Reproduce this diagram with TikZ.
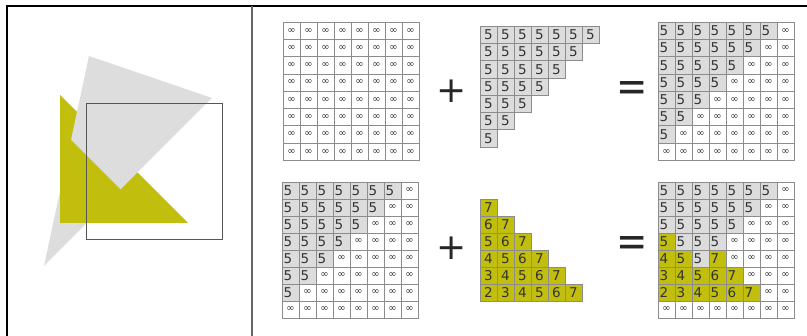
\documentclass[tikz,border=0pt]{standalone}
\usepackage{fontspec}
\usepackage{graphicx}
\newfontfamily\djv{DejaVu Sans}
\definecolor{ylw}{HTML}{C1BE0E}
\definecolor{lgray}{HTML}{DCDCDC}
\definecolor{triGray}{HTML}{DDDDDD}
\definecolor{cellline}{HTML}{8C8C8C}
\definecolor{txt}{HTML}{333333}
\definecolor{framec}{HTML}{555555}
\def\ch{17}
\tikzset{
  cellbase/.style={draw=cellline, line width=0.7pt, minimum width=17pt,
    minimum height=\ch pt, inner xsep=1.5pt, inner ysep=0pt, outer sep=0pt,
    text width=14pt, anchor=north west, text=txt},
  cellI/.style={cellbase, fill=white, align=center, font=\djv\fontsize{10}{10}\selectfont},
  cellG/.style={cellbase, fill=lgray, align=left, font=\djv\fontsize{13.5}{13.5}\selectfont},
  cellY/.style={cellbase, fill=ylw, align=left, font=\djv\fontsize{13.5}{13.5}\selectfont},
  cellGc/.style={cellbase, fill=lgray, align=center, font=\djv\fontsize{13.5}{13.5}\selectfont},
  cellYc/.style={cellbase, fill=ylw, align=center, font=\djv\fontsize{13.5}{13.5}\selectfont},
  opsign/.style={font=\djv\fontsize{36}{36}\selectfont, text=black!85, inner sep=0pt},
  eqsign/.style={font=\djv\fontsize{44}{44}\selectfont, text=black!85, inner sep=0pt},
}
\begin{document}
\begin{tikzpicture}[x=1pt,y=-1pt]
\useasboundingbox (0,0) rectangle (807,336);
% frame
\draw[line width=2pt, black] (7,337) -- (7,6) -- (808,6);
\draw[line width=1.2pt, black!60] (252,6) -- (252,337);
% left scene
\fill[ylw] (60,95) -- (60,223) -- (188,223) -- cycle;
\fill[triGray] (89,56) -- (212,98) -- (44,266) -- cycle;
\begin{scope}
  \clip (0,69) -- (300,369) -- (0,369) -- cycle;
  \fill[ylw] (60,95) -- (60,223) -- (188,223) -- cycle;
\end{scope}
\draw[framec, line width=1pt] (86,104) rectangle (222,240);
% grid 1 : all infinity
\def\ch{17.3}
\foreach \r in {0,...,7}{
  \foreach \c in {0,...,7}{
    \node[cellI] (ga-\r-\c) at (283+17*\c, 22+17.3*\r) {∞};
  }
}
% grid 2 : triangle of 5
\foreach \r in {0,...,6}{
  \pgfmathtruncatemacro\last{6-\r}
  \foreach \c in {0,...,\last}{
    \node[cellGc] (gb-\r-\c) at (480+17*\c, 26+17.3*\r) {5};
  }
}
% grid 3 : 5 above antidiagonal
\foreach \r in {0,...,7}{
  \foreach \c in {0,...,7}{
    \pgfmathtruncatemacro\s{\r+\c}
    \ifnum\s<7
      \node[cellG] (gc-\r-\c) at (658+17*\c, 22+17.3*\r) {5};
    \else
      \node[cellI] (gc-\r-\c) at (658+17*\c, 22+17.3*\r) {∞};
    \fi
  }
}
\def\ch{17}
% grid 4
\foreach \r in {0,...,7}{
  \foreach \c in {0,...,7}{
    \pgfmathtruncatemacro\s{\r+\c}
    \ifnum\s<7
      \node[cellG] (gd-\r-\c) at (282+17*\c, 182+17*\r) {5};
    \else
      \node[cellI] (gd-\r-\c) at (282+17*\c, 182+17*\r) {∞};
    \fi
  }
}
% grid 5 : yellow triangle
\foreach \r in {0,...,5}{
  \foreach \c in {0,...,\r}{
    \pgfmathtruncatemacro\v{7-\r+\c}
    \node[cellYc] (ge-\r-\c) at (480+17*\c, 199+17*\r) {\v};
  }
}
% grid 6 : result
\foreach \r/\lst in {
  0/{G/5,G/5,G/5,G/5,G/5,G/5,G/5,I/∞},
  1/{G/5,G/5,G/5,G/5,G/5,G/5,I/∞,I/∞},
  2/{G/5,G/5,G/5,G/5,G/5,I/∞,I/∞,I/∞},
  3/{Y/5,G/5,G/5,G/5,I/∞,I/∞,I/∞,I/∞},
  4/{Y/4,Y/5,G/5,Y/7,I/∞,I/∞,I/∞,I/∞},
  5/{Y/3,Y/4,Y/5,Y/6,Y/7,I/∞,I/∞,I/∞},
  6/{Y/2,Y/3,Y/4,Y/5,Y/6,Y/7,I/∞,I/∞},
  7/{I/∞,I/∞,I/∞,I/∞,I/∞,I/∞,I/∞,I/∞}}{
  \foreach \t/\v [count=\c from 0] in \lst {
    \node[cell\t] (gf-\r-\c) at (658+17*\c, 182+17*\r) {\v};
  }
}
% operators
\node[opsign] (plusA) at (452,91) {+};
\node[eqsign] (eqA) at (632,92) {\scalebox{0.85}[1]{=}};
\node[opsign] (plusB) at (452,248) {+};
\node[eqsign] (eqB) at (632,247) {\scalebox{0.85}[1]{=}};
\end{tikzpicture}
\end{document}
